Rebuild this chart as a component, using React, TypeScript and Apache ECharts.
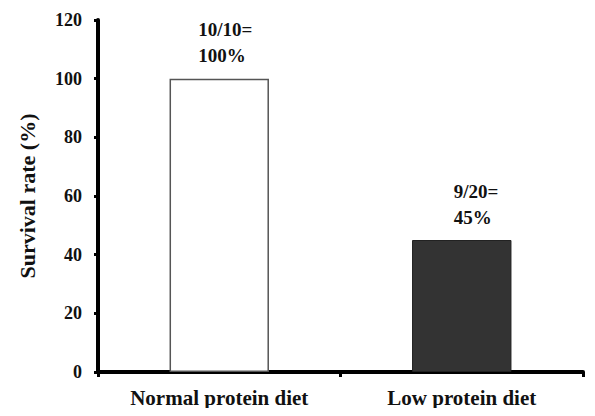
import React, { useEffect, useRef } from "react";
import * as echarts from "echarts";

const categories = ["Normal protein diet", "Low protein diet"];
const survivalRates = [100, 45];
const barLabels = ["10/10=\n100%", "9/20=\n45%"];
const yTicks = [0, 20, 40, 60, 80, 100, 120];

export default function App() {
  const ref = useRef<HTMLDivElement>(null);
  useEffect(() => {
    if (!ref.current) return;
    const chart = echarts.init(ref.current, null, { renderer: "svg" });
    const font = "Liberation Serif";
    const barStyles = [
      { color: "#ffffff", borderColor: "#555555", borderWidth: 1.5 },
      { color: "#333333", borderColor: "#222222", borderWidth: 1 },
    ];
    const offsets = [
      [-21, 0],
      [-8, 0],
    ];
    chart.setOption({
      animation: false,
      backgroundColor: "#ffffff",
      grid: { left: 80, right: 4, top: 12, bottom: 30, containLabel: false },
      xAxis: {
        type: "category",
        data: categories,
        axisLine: { show: true, lineStyle: { color: "#000", width: 4 } },
        axisTick: { show: true, alignWithLabel: false, length: 5, lineStyle: { color: "#000", width: 3 } },
        axisLabel: {
          color: "#111",
          fontFamily: font,
          fontWeight: "bold",
          fontSize: 21,
          margin: 15,
        },
      },
      yAxis: {
        type: "value",
        min: yTicks[0],
        max: yTicks[yTicks.length - 1],
        interval: 20,
        name: "Survival rate (%)",
        nameLocation: "middle",
        nameGap: 60,
        nameRotate: 90,
        nameTextStyle: { color: "#111", fontFamily: font, fontWeight: "bold", fontSize: 22 },
        axisLine: { show: true, lineStyle: { color: "#000", width: 4 } },
        axisTick: { show: true, length: 4, lineStyle: { color: "#000", width: 3 } },
        splitLine: { show: false },
        axisLabel: {
          color: "#111",
          fontFamily: font,
          fontWeight: "bold",
          fontSize: 18,
          margin: 16,
        },
      },
      series: [
        {
          type: "bar",
          barWidth: "41%",
          data: survivalRates.map((v, i) => ({
            value: v,
            itemStyle: barStyles[i],
            label: {
              show: true,
              position: "top",
              distance: 10,
              formatter: barLabels[i],
              align: "left",
              offset: offsets[i],
              color: "#111",
              fontFamily: font,
              fontWeight: "bold",
              fontSize: 19,
              lineHeight: 26,
            },
          })),
        },
      ],
    });
    return () => chart.dispose();
  }, []);
  return <div ref={ref} style={{ width: 579, height: 400 }} />;
}
